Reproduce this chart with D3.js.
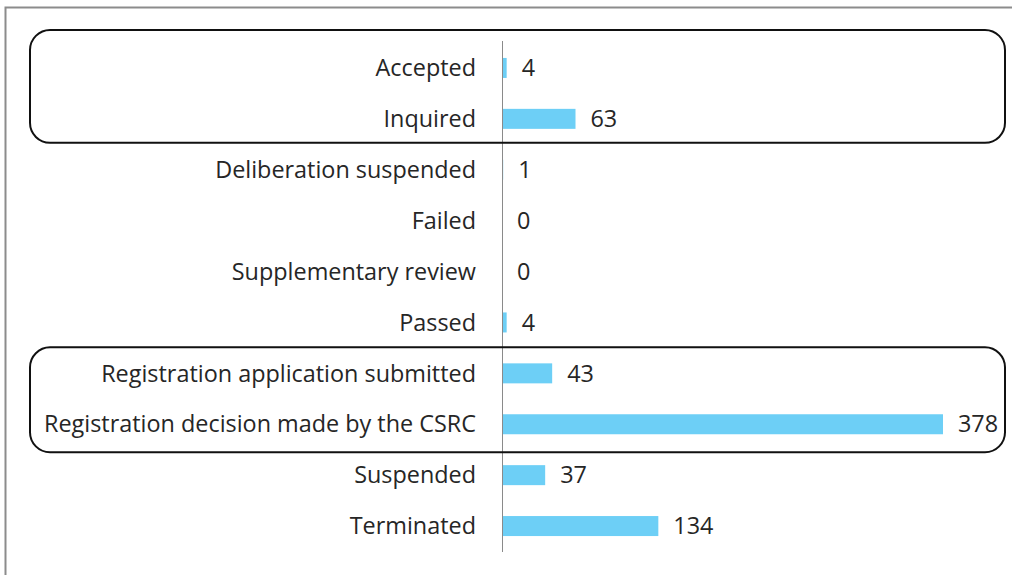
<!DOCTYPE html>
<html>
<head>
<meta charset="utf-8">
<script src="https://cdn.jsdelivr.net/npm/d3@7"></script>
<style>
  body { margin: 0; background: #fff; }
  svg { display: block; }
</style>
</head>
<body>
<svg width="1012" height="575"></svg>
<script>
var categories = [
    "Accepted",
    "Inquired",
    "Deliberation suspended",
    "Failed",
    "Supplementary review",
    "Passed",
    "Registration application submitted",
    "Registration decision made by the CSRC",
    "Suspended",
    "Terminated"
];
var counts = [4, 63, 1, 0, 0, 4, 43, 378, 37, 134];
// pairs of categories that are circled in the picture
var highlightGroups = [
    ["Accepted", "Inquired"],
    ["Registration application submitted", "Registration decision made by the CSRC"]
];

var data = categories.map((c, i) => ({ name: c, value: counts[i] }));

var svg = d3.select("svg"),
    width = +svg.attr("width"),
    height = +svg.attr("height");

var fontFamily = "'Open Sans', sans-serif";
var fontSize = 23.4;

// outer frame (only left and top edges show)
svg.append("rect")
    .attr("x", 5.5).attr("y", 7.5)
    .attr("width", width + 20).attr("height", height + 20)
    .attr("fill", "none")
    .attr("stroke", "#8c8c8c")
    .attr("stroke-width", 2);

var x = d3.scaleLinear()
    .domain([0, 378])
    .range([502, 943]);

var y = d3.scaleBand()
    .domain(categories)
    .range([42.5, 551.5])
    .paddingInner(0.6)
    .paddingOuter(0.3);

var mid = name => y(name) + y.bandwidth() / 2;

// bars
svg.append("g")
    .selectAll("rect")
    .data(data)
    .enter().append("rect")
    .attr("x", x(0))
    .attr("y", d => mid(d.name) - 10)
    .attr("width", d => x(d.value) - x(0))
    .attr("height", 20)
    .attr("fill", "#6dcff6");

// axis line
svg.append("line")
    .attr("x1", x(0) + 0.5).attr("x2", x(0) + 0.5)
    .attr("y1", 41).attr("y2", 552)
    .attr("stroke", "#8a8a8a")
    .attr("stroke-width", 1);

// category labels
svg.append("g")
    .selectAll("text")
    .data(data)
    .enter().append("text")
    .attr("x", 476)
    .attr("y", d => mid(d.name))
    .attr("dy", "0.35em")
    .attr("text-anchor", "end")
    .style("font-family", fontFamily)
    .style("font-size", fontSize + "px")
    .attr("fill", "#262626")
    .text(d => d.name);

// value labels
svg.append("g")
    .selectAll("text")
    .data(data)
    .enter().append("text")
    .attr("x", d => x(d.value) + 15)
    .attr("y", d => mid(d.name))
    .attr("dy", "0.35em")
    .style("font-family", fontFamily)
    .style("font-size", fontSize + "px")
    .attr("fill", "#262626")
    .text(d => d.value);

// rounded highlight boxes
svg.append("g")
    .selectAll("rect")
    .data(highlightGroups)
    .enter().append("rect")
    .attr("x", 30)
    .attr("y", (g, i) => i === 0 ? 30 : mid(g[0]) - 26)
    .attr("width", 975)
    .attr("height", (g, i) => mid(g[1]) + (i === 0 ? 24 : 28) - (i === 0 ? 30 : mid(g[0]) - 26))
    .attr("rx", 20).attr("ry", 20)
    .attr("fill", "none")
    .attr("stroke", "#111")
    .attr("stroke-width", 2);
</script>
</body>
</html>
